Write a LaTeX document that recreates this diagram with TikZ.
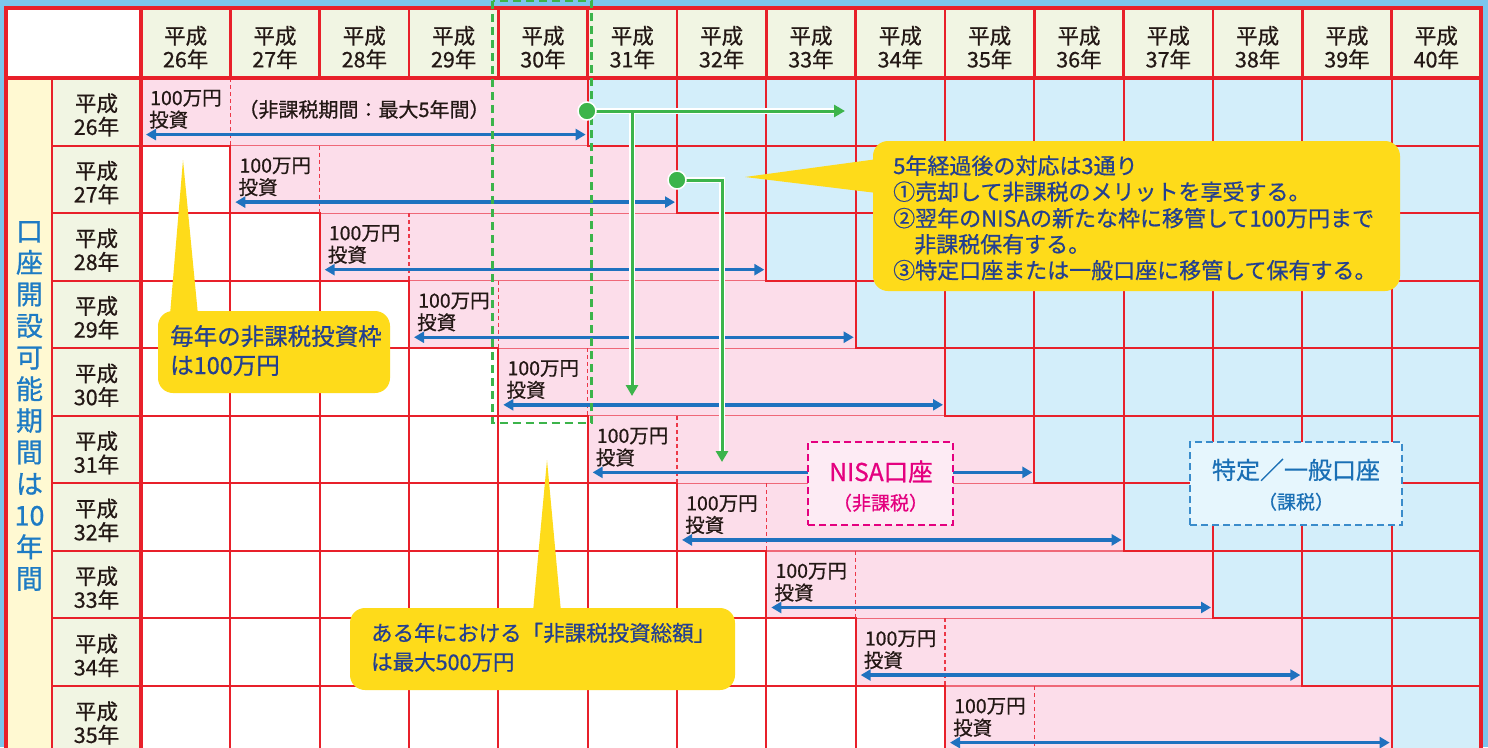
\documentclass[tikz,border=0pt]{standalone}
\usepackage{fontspec}
\setmainfont{Noto Sans CJK JP}[FakeBold=0.7]
\usetikzlibrary{arrows.meta}
\definecolor{bgblue}{HTML}{7CC5EC}
\definecolor{gridred}{HTML}{E8202A}
\definecolor{bandred}{HTML}{EF6878}
\definecolor{dashred}{HTML}{EC3848}
\definecolor{hdrfill}{HTML}{F1F5E3}
\definecolor{vlabfill}{HTML}{FFF9D2}
\definecolor{pinkfill}{HTML}{FCDDEA}
\definecolor{bluefill}{HTML}{D3EEFA}
\definecolor{arrowblue}{HTML}{1F72BF}
\definecolor{greenline}{HTML}{3CB44B}
\definecolor{calloutyellow}{HTML}{FEDB1A}
\definecolor{callouttext}{HTML}{24408F}
\definecolor{nisapink}{HTML}{E4007F}
\definecolor{nisafill}{HTML}{FDEBF4}
\definecolor{taxblue}{HTML}{3A8CCB}
\definecolor{taxfill}{HTML}{E6F6FD}
\definecolor{taxtext}{HTML}{1A6FB5}
\definecolor{vlabtext}{HTML}{1E7BC4}
\definecolor{inktext}{HTML}{231815}
\tikzset{
  hdrcell/.style={fill=hdrfill, draw=gridred, line width=2.6pt},
  rowhdrcell/.style={fill=hdrfill, draw=gridred, line width=2pt},
  whitecell/.style={fill=white, draw=gridred, line width=2pt},
  bluecell/.style={fill=bluefill, draw=gridred, line width=2pt},
  bandbox/.style={fill=pinkfill, draw=bandred, line width=1.2pt},
  banddash/.style={draw=dashred, line width=1.1pt, dash pattern=on 4pt off 3pt},
  thickrule/.style={draw=gridred, line width=3.2pt},
  yeartext/.style={align=center, inner sep=0pt, text=inktext, font=\fontsize{21.5}{23.5}\selectfont},
  invtext/.style={anchor=base west, inner sep=0pt, text=inktext, font=\fontsize{19.5}{22}\selectfont},
  investarrow/.style={draw=arrowblue, line width=3.4pt, arrows={Triangle[length=10pt,width=11pt]-Triangle[length=10pt,width=11pt]}},
  gcase/.style={draw=white, line width=6pt},
  garrow/.style={draw=greenline, line width=3pt, arrows={-Triangle[length=11pt,width=12pt]}},
  gpath/.style={draw=greenline, line width=3pt},
  gdot/.style={circle, fill=greenline, draw=white, line width=1.5pt, minimum size=18pt, inner sep=0pt},
  greenframe/.style={draw=greenline, line width=2.6pt, dash pattern=on 8pt off 5pt},
  calloutbox/.style={fill=calloutyellow, rounded corners=15pt, inner sep=0pt},
  ctext/.style={anchor=base west, inner sep=0pt, text=callouttext},
  acctbox/.style={line width=1.6pt, dash pattern=on 7pt off 4pt, inner sep=0pt, minimum height=83pt},
}
\begin{document}
\begin{tikzpicture}[x=1pt,y=-1pt]
\useasboundingbox (0,0) rectangle (1488,747);
\clip (0,0) rectangle (1488,747);
\fill[bgblue] (0,0) rectangle (1488,747);
% left label column and corner
\fill[vlabfill] (6,78) rectangle (52,800);
\fill[white] (6,8) rectangle (141,78);
% header row
\foreach \j in {0,...,14}{
  \pgfmathsetmacro\xa{141+89.333*\j}
  \pgfmathsetmacro\xb{\xa+89.333}
  \pgfmathtruncatemacro\yr{26+\j}
  \path[hdrcell] (\xa,8) rectangle (\xb,78);
  \node[yeartext] (hd\j) at ({\xa+44.67},47.5) {平成\\\yr{}年};
}
% pink bands (non-taxable periods)
\foreach \k in {0,...,9}{
  \pgfmathsetmacro\ya{78+67.56*\k}
  \pgfmathsetmacro\yb{\ya+67.56}
  \pgfmathsetmacro\bs{141+89.333*\k}
  \pgfmathsetmacro\be{\bs+446.667}
  \path[bandbox] (\bs,\ya) rectangle (\be,\yb);
}
% white and blue cells
\foreach \k in {0,...,9}{
  \foreach \j in {0,...,14}{
    \pgfmathsetmacro\ya{78+67.56*\k}
    \pgfmathsetmacro\yb{\ya+67.56}
    \pgfmathsetmacro\xa{141+89.333*\j}
    \pgfmathsetmacro\xb{\xa+89.333}
    \pgfmathtruncatemacro\lim{\k+4}
    \ifnum\j<\k \path[whitecell] (\xa,\ya) rectangle (\xb,\yb); \fi
    \ifnum\j>\lim \path[bluecell] (\xa,\ya) rectangle (\xb,\yb); \fi
  }
}
% dashed separators, row headers, arrows, texts
\foreach \k in {0,...,9}{
  \pgfmathsetmacro\ya{78+67.56*\k}
  \pgfmathsetmacro\yb{\ya+67.56}
  \pgfmathsetmacro\bs{141+89.333*\k}
  \pgfmathsetmacro\be{\bs+446.667}
  \pgfmathtruncatemacro\yr{26+\k}
  \draw[banddash] ({\bs+89.333},\ya) -- ({\bs+89.333},\yb);
  \path[rowhdrcell] (52,\ya) rectangle (141,\yb);
  \node[yeartext] (rh\k) at (96.5,{\ya+37}) {平成\\\yr{}年};
  \coordinate (al\k) at ({\bs+5},{\yb-11});
  \coordinate (ar\k) at ({\be-2},{\yb-11});
  \draw[investarrow] (al\k) -- (ar\k);
  \node[invtext] (iva\k) at ({\bs+9},{\ya+27}) {100万円};
  \node[invtext] (ivb\k) at ({\bs+8},{\ya+49}) {投資};
}
\node[anchor=base, inner sep=0pt, text=inktext, font=\fontsize{20}{22}\selectfont] (period) at (364,117) {（非課税期間：最大5年間）};
% thick rules
\draw[thickrule] (141,8) -- (141,800);
\draw[thickrule] (6,78) -- (1481,78);
\draw[gridred, line width=2pt] (52,78) -- (52,800);
\draw[thickrule] (6,8) rectangle (1481,800);
% green dashed frame
\draw[greenframe] (492.5,1) rectangle (591.5,423);
% green connectors
\coordinate (g1c) at (587,111);
\coordinate (g1e) at (845,111);
\coordinate (g1j) at (632,111);
\coordinate (g1d) at (632,396);
\draw[gcase] (g1c) -- (838,111);
\draw[gcase] (g1j) -- (632,389);
\draw[garrow] (g1c) -- (g1e);
\draw[garrow] (g1j) -- (g1d);
\node[gdot] (g1) at (g1c) {};
\coordinate (g2c) at (677,180);
\coordinate (g2k) at (722,180);
\coordinate (g2d) at (722,462);
\draw[gcase] (g2c) -- (g2k) -- (722,455);
\draw[garrow] (g2c) -- (g2k) -- (g2d);
\node[gdot] (g2) at (g2c) {};
% account boxes
\node[acctbox, draw=nisapink, fill=nisafill, minimum width=145pt] (nisa) at (880.5,483.5) {};
\node[anchor=base, inner sep=0pt, text=nisapink, font=\fontsize{24.5}{28}\selectfont] (nisaa) at (881,481) {NISA口座};
\node[anchor=base, inner sep=0pt, text=nisapink, font=\fontsize{19}{22}\selectfont] (nisab) at (880.5,510) {（非課税）};
\node[acctbox, draw=taxblue, fill=taxfill, minimum width=212pt] (tax) at (1296,483.5) {};
\node[anchor=base, inner sep=0pt, text=taxtext, font=\fontsize{24}{28}\selectfont] (taxa) at (1296,479) {特定／一般口座};
\node[anchor=base, inner sep=0pt, text=taxtext, font=\fontsize{19}{22}\selectfont] (taxb) at (1296,509) {（課税）};
% callout 1
\fill[calloutyellow] (885,158) -- (745,177) -- (885,194) -- cycle;
\node[calloutbox, minimum width=527pt, minimum height=150pt] (c1) at (1136.5,216) {};
\node[ctext, font=\fontsize{22}{26}\selectfont] (c1a) at (893,174) {5年経過後の対応は3通り};
\node[ctext, font=\fontsize{22}{26}\selectfont] (c1b) at (893,200) {①売却して非課税のメリットを享受する。};
\node[ctext, font=\fontsize{22}{26}\selectfont] (c1c) at (893,226.5) {②翌年のNISAの新たな枠に移管して100万円まで};
\node[ctext, font=\fontsize{22}{26}\selectfont] (c1d) at (914,252.5) {非課税保有する。};
\node[ctext, font=\fontsize{22}{26}\selectfont] (c1e) at (893,278.5) {③特定口座または一般口座に移管して保有する。};
% callout 2
\fill[calloutyellow] (170,315) -- (183,160) -- (198,315) -- cycle;
\node[calloutbox, minimum width=232pt, minimum height=82pt] (c2) at (274,352) {};
\node[ctext, font=\fontsize{23.5}{28}\selectfont] (c2a) at (170,345) {毎年の非課税投資枠};
\node[ctext, font=\fontsize{23.5}{28}\selectfont] (c2b) at (170,374) {は100万円};
% callout 3
\fill[calloutyellow] (533,612) -- (547,460) -- (561,612) -- cycle;
\node[calloutbox, minimum width=385pt, minimum height=82pt] (c3) at (542.5,649) {};
\node[ctext, font=\fontsize{21.5}{26}\selectfont] (c3a) at (371,641) {ある年における「非課税投資総額」};
\node[ctext, font=\fontsize{21.5}{26}\selectfont] (c3b) at (371,670) {は最大500万円};
% vertical label
\node[align=center, inner sep=0pt, text=vlabtext, font=\fontsize{27}{31.6}\selectfont] (vlab) at (29.5,406) {口\\座\\開\\設\\可\\能\\期\\間\\は\\10\\年\\間};
\end{tikzpicture}
\end{document}
